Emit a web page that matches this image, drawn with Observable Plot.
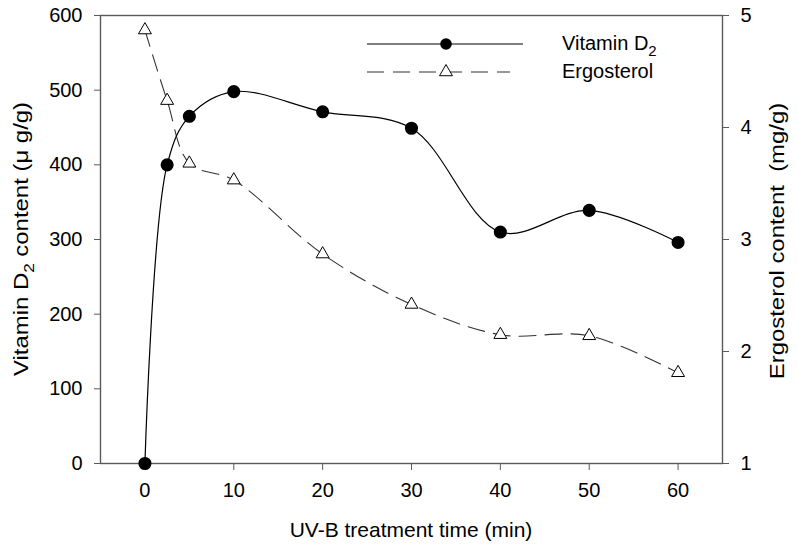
<!DOCTYPE html>
<html>
<head>
<meta charset="utf-8">
<script src="https://cdn.jsdelivr.net/npm/d3@7"></script>
<script src="https://cdn.jsdelivr.net/npm/@observablehq/plot@0.6"></script>
<style>
  body { margin: 0; background: white; }
  #chart { position: relative; width: 797px; height: 549px; }
</style>
</head>
<body>
<div id="chart"></div>
<script>
// Data
const time = [0, 2.5, 5, 10, 20, 30, 40, 50, 60];
const vitaminD2 = [0, 400, 465, 498, 471, 449, 310, 339, 296];      // µg/g (left axis)
const ergosterol = [4.87, 4.24, 3.68, 3.53, 2.87, 2.42, 2.15, 2.14, 1.81]; // mg/g (right axis)
const xTicks = [0, 10, 20, 30, 40, 50, 60];
const leftTicks = [0, 100, 200, 300, 400, 500, 600];
const rightTicks = [1, 2, 3, 4, 5];

// map the right axis (1..5) onto the left scale (0..600)
const toLeft = v => (v - 1) * 150;
const fromLeft = v => v / 150 + 1;

const rows = time.map((t, i) => ({ t, vit: vitaminD2[i], erg: ergosterol[i] }));

const font = "Liberation Sans, Arial, sans-serif";
const axisColor = "#5a5a5a";
const fs = 20;

const plot = Plot.plot({
  width: 797,
  height: 549,
  marginLeft: 100,
  marginRight: 75,
  marginTop: 15,
  marginBottom: 86,
  style: { fontFamily: font, fontSize: fs + "px", color: "black", background: "white" },
  x: { domain: [-5, 65] },
  y: { domain: [0, 600] },
  marks: [
    Plot.frame({ stroke: axisColor, strokeWidth: 1.4 }),
    Plot.axisX({ ticks: xTicks, tickSize: 7, tickPadding: 12, label: null, stroke: axisColor, fill: "black", fontSize: fs }),
    Plot.axisY({ ticks: leftTicks, tickSize: 6, tickPadding: 12, label: null, stroke: axisColor, fill: "black", fontSize: fs }),
    Plot.axisY({ anchor: "right", ticks: rightTicks.map(toLeft), tickFormat: d => String(fromLeft(d)), tickSize: 6, tickPadding: 12, label: null, stroke: axisColor, fill: "black", fontSize: fs }),
    Plot.line(rows, { x: "t", y: d => toLeft(d.erg), curve: "catmull-rom", stroke: "#333", strokeWidth: 1.1, strokeDasharray: "17,9" }),
    Plot.line(rows, { x: "t", y: "vit", curve: "catmull-rom", stroke: "black", strokeWidth: 1.2 }),
    Plot.dot(rows, { x: "t", y: d => toLeft(d.erg), symbol: "triangle", r: 4.8, fill: "white", stroke: "black", strokeWidth: 1 }),
    Plot.dot(rows, { x: "t", y: "vit", r: 5.8, fill: "black", stroke: "black" })
  ]
});

document.getElementById("chart").appendChild(plot);

// Axis titles and legend
const svg = d3.select(plot);
const g = svg.append("g").attr("font-family", font).attr("font-size", 21).attr("fill", "black");

// left title (slightly elongated along its length, as in the reference)
const lt = g.append("text")
  .attr("transform", "translate(28,239) rotate(-90) scale(1.14,1)")
  .attr("text-anchor", "middle");
lt.append("tspan").text("Vitamin D");
lt.append("tspan").attr("font-size", 15).attr("dy", 6).text("2");
lt.append("tspan").attr("dy", -6).text(" content (\u03bc g/g)");

// right title
g.append("text")
  .attr("transform", "translate(784,241) rotate(-90) scale(1.14,1)")
  .attr("text-anchor", "middle")
  .text("Ergosterol content\u00a0\u00a0(mg/g)");

// x title
g.append("text")
  .attr("x", 411).attr("y", 537)
  .attr("text-anchor", "middle")
  .attr("font-size", 21)
  .text("UV-B treatment time (min)");

// legend
const lg = svg.append("g").attr("font-family", font).attr("font-size", 20).attr("text-anchor", "start");
lg.append("line").attr("x1", 367).attr("x2", 523).attr("y1", 44).attr("y2", 44).attr("stroke", "black").attr("stroke-width", 1.2);
lg.append("circle").attr("cx", 446).attr("cy", 44).attr("r", 5.8).attr("fill", "black");
lg.append("line").attr("x1", 367).attr("x2", 510).attr("y1", 72).attr("y2", 72).attr("stroke", "#333").attr("stroke-width", 1.1).attr("stroke-dasharray", "17,9");
lg.append("path").attr("d", d3.symbol(d3.symbolTriangle, Math.PI * 4.8 * 4.8)()).attr("transform", "translate(446,72)").attr("fill", "white").attr("stroke", "black");
const l1 = lg.append("text").attr("x", 562).attr("y", 50);
l1.append("tspan").text("Vitamin D");
l1.append("tspan").attr("font-size", 15).attr("dy", 6).text("2");
lg.append("text").attr("x", 562).attr("y", 78).text("Ergosterol");
</script>
</body>
</html>
